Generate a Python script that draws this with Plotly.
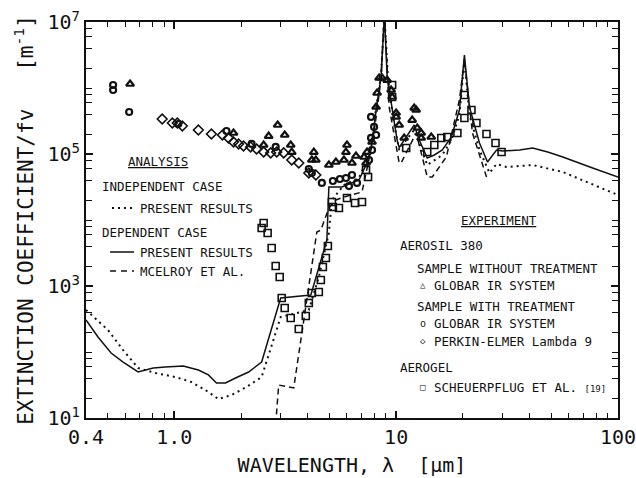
import plotly.graph_objects as go

# ---------------- data ----------------
# Dependent case, present results (solid)
dep_x = [0.4, 0.453, 0.519, 0.588, 0.687, 0.803, 0.911, 1.098, 1.284, 1.425, 1.549, 1.702,
         1.888, 2.163, 2.476, 3.017, 4.125, 4.873, 4.975, 5.697, 6.80, 7.39, 7.79, 8.12, 8.55,
         8.85, 9.11, 9.59, 10.1, 10.32, 11.1, 12.06, 12.71, 13.81, 14.86, 16.15, 17.74, 19.28,
         20.31, 21.4, 23.75, 25.81, 28.35, 30.18, 36.0, 41.25, 48.2, 56.38, 74.7, 100]
dep_y = [305, 169, 96.6, 70.5, 49.8, 57.2, 59.3, 61.4, 53.4, 44.9, 33.9, 33.9,
         40.4, 49.8, 70.5, 658, 731, 4980, 31600, 31600, 40400, 73100, 147000, 464000, 1470000,
         13000000, 1470000, 464000, 163000, 125000, 181000, 275000, 163000, 87000, 96600, 115000, 181000, 464000,
         3160000, 516000, 147000, 75600, 115000, 111000, 115000, 123000, 107000, 90100, 63500, 44900]

# Independent case, present results (dotted)
ind_x = [0.4, 0.503, 0.588, 0.687, 0.82, 1.01, 1.194, 1.38, 1.581, 1.811, 2.118, 2.476,
         3.017, 3.64, 4.04, 4.483, 4.975, 5.133, 5.817, 6.80, 7.39, 7.79, 8.12, 8.55, 8.85,
         9.2, 9.69, 10.32, 11.1, 12.06, 13.81, 16.15, 17.74, 19.28, 20.31, 21.4, 23.75,
         26.35, 28.35, 31.46, 41.25, 56.38, 74.7, 100]
ind_y = [433, 215, 107, 57.2, 48.1, 41.8, 35.1, 26.6, 19.4, 22.3, 29.5, 41.8,
         339, 390, 433, 1370, 6350, 20100, 33900, 43300, 81100, 163000, 498000, 1570000, 13000000,
         1320000, 351000, 115000, 163000, 231000, 68100, 96600, 163000, 390000, 2660000, 390000, 115000,
         51600, 70500, 63500, 68100, 53400, 36400, 23900]

# Dependent case, McElroy et al. (dashed)
mce_x = [2.864, 2.955, 3.455, 4.391, 4.577, 4.975, 5.352, 5.817, 7.017, 7.39, 7.79, 8.21,
         8.55, 8.85, 9.3, 10.32, 10.53, 11.45, 12.31, 13.81, 14.55, 16.84, 19.28, 20.31,
         22.08, 25.81]
mce_y = [8, 31.6, 28.5, 6580, 7050, 15200, 20100, 22300, 26600, 57200, 137000, 464000,
         1420000, 13000000, 516000, 73100, 73100, 128000, 208000, 44900, 44900, 90100, 658000, 2660000,
         208000, 40400]

# Aerosil 380, sample without treatment, Globar IR system (triangles)
tri_x = [0.632, 1.849, 2.528, 2.663, 2.924, 3.146, 3.348, 3.384, 4.169, 4.256, 4.345, 4.975,
         5.352, 5.817, 5.94, 6.002, 6.323, 6.592, 7.165, 7.316, 7.393, 7.788, 8.121, 8.206,
         8.377, 8.643, 9.106, 9.493, 9.592, 10.0, 10.0, 10.32, 10.87, 11.81, 12.06, 12.31,
         12.45, 12.97, 12.97, 14.40]
tri_y = [1150000, 208000, 137000, 187000, 275000, 194000, 137000, 107000, 81100, 107000, 81100, 68100,
         75600, 81100, 107000, 137000, 73100, 93300, 90100, 73100, 107000, 152000, 516000, 840000,
         1420000, 1420000, 1320000, 933000, 731000, 418000, 364000, 275000, 175000, 327000, 498000, 464000,
         248000, 208000, 175000, 181000]

# Aerosil 380, sample with treatment, Globar IR system (circles)
cir_x = [0.53, 0.53, 0.626, 1.042, 1.719, 2.231, 2.864, 4.04, 4.169, 4.625, 5.187, 5.58,
         5.94, 6.128, 6.323, 6.661, 7.548, 7.707, 7.707, 7.788, 7.953, 8.121]
cir_y = [1110000, 933000, 433000, 285000, 223000, 142000, 128000, 59300, 51600, 36400, 39000, 41800,
         43300, 32700, 48100, 36400, 81100, 364000, 175000, 115000, 257000, 194000]

# Aerosil 380, sample with treatment, Perkin-Elmer Lambda 9 (diamonds)
dia_x = [0.882, 0.98, 1.032, 1.087, 1.284, 1.47, 1.649, 1.755, 1.849, 1.949, 2.052, 2.208,
         2.35, 2.528, 2.719, 2.894, 3.113, 3.384, 3.64, 4.04, 4.345]
dia_y = [339000, 295000, 295000, 266000, 231000, 201000, 194000, 175000, 152000, 142000, 132000, 128000,
         119000, 107000, 104000, 107000, 104000, 81100, 73100, 51600, 48100]

# Aerogel, Scheuerpflug et al. [19] (squares)
sq_x = [2.476, 2.528, 2.635, 2.747, 2.864, 2.986, 3.049, 3.146, 3.348, 3.64, 3.915, 4.04,
        4.169, 4.483, 4.577, 4.674, 4.823, 4.924, 5.133, 5.187, 5.522, 6.002, 6.524, 7.017,
        7.316, 7.47, 9.592, 9.592, 11.1, 13.81, 14.86, 15.98, 17.01, 18.88, 20.31, 20.31,
        21.85, 23.01, 25.54, 28.05, 29.87]
sq_y = [7560, 9010, 6350, 3770, 2010, 1370, 658, 464, 327, 223, 351, 553,
        783, 811, 1230, 1940, 2660, 4040, 18700, 15700, 15200, 21500, 18100, 18700,
        57200, 44900, 1110000, 731000, 123000, 107000, 137000, 175000, 181000, 208000, 783000, 351000,
        464000, 295000, 201000, 147000, 107000]

x_tick_vals = [0.4, 1, 10, 100]
x_tick_text = ["0.4", "1.0", "10", "100"]
y_tick_vals = [10, 1e3, 1e5, 1e7]
y_tick_text = ["10<sup>1</sup>", "10<sup>3</sup>", "10<sup>5</sup>", "10<sup>7</sup>"]
x_minor = [0.5, 0.6, 0.7, 0.8, 0.9, 2, 3, 4, 5, 6, 7, 8, 9, 20, 30, 40, 50, 60, 70, 80, 90]
y_minor = [m * 10 ** d for d in range(1, 7) for m in (1, 2, 4, 6, 8) if not (m == 1 and d % 2 == 1)]

# ---------------- figure ----------------
INK = "#111111"
FONT = "DejaVu Sans Mono"

fig = go.Figure()

fig.add_trace(go.Scatter(x=ind_x, y=ind_y, mode="lines",
                         line=dict(color=INK, width=2, dash="2px,4px"), name="indep"))
fig.add_trace(go.Scatter(x=dep_x, y=dep_y, mode="lines",
                         line=dict(color=INK, width=1.5), name="dep"))
fig.add_trace(go.Scatter(x=mce_x, y=mce_y, mode="lines",
                         line=dict(color=INK, width=1.5, dash="6px,4px"), name="mcelroy"))

fig.add_trace(go.Scatter(x=sq_x, y=sq_y, mode="markers",
                         marker=dict(symbol="square-open", size=7, color=INK, line=dict(width=1.6))))
fig.add_trace(go.Scatter(x=dia_x, y=dia_y, mode="markers",
                         marker=dict(symbol="diamond-open", size=7.5, color=INK, line=dict(width=1.6))))
fig.add_trace(go.Scatter(x=cir_x, y=cir_y, mode="markers",
                         marker=dict(symbol="circle-open", size=6, color=INK, line=dict(width=2.2))))
fig.add_trace(go.Scatter(x=tri_x, y=tri_y, mode="markers",
                         marker=dict(symbol="triangle-up-open", size=7, color=INK, line=dict(width=2.2))))

# plot area in pixels: x 86..618, y 22..418
L, R, T, B = 86, 618, 22, 418
def px(xp):
    return (xp - L) / (R - L)
def py(yp):
    return (B - yp) / (B - T)

anns = []
def txt(text, xp, yp, size=12.5, anchor="left"):
    anns.append(dict(text=text, x=px(xp), y=py(yp), xref="paper", yref="paper",
                     xanchor=anchor, yanchor="middle", showarrow=False,
                     font=dict(family=FONT, size=size, color=INK), borderpad=0))

txt("<u>ANALYSIS</u>", 158, 162, anchor="center")
txt("INDEPENDENT CASE", 101, 187)
txt("PRESENT RESULTS", 139, 208)
txt("DEPENDENT CASE", 101, 232)
txt("PRESENT RESULTS", 139, 252)
txt("MCELROY ET AL.", 139, 271)

txt("<u>EXPERIMENT</u>", 499, 220, anchor="center")
txt("AEROSIL 380", 399, 245)
txt("SAMPLE WITHOUT TREATMENT", 416, 268)
txt("\u25b3", 423, 285, size=9, anchor="center")
txt("GLOBAR IR SYSTEM", 433, 285)
txt("SAMPLE WITH TREATMENT", 416, 306)
txt("o", 423, 323, size=10, anchor="center")
txt("GLOBAR IR SYSTEM", 433, 323)
txt("\u25c7", 423, 341, size=9, anchor="center")
txt("PERKIN-ELMER Lambda 9", 433, 341)
txt("AEROGEL", 399, 367)
txt("\u25a1", 423, 387, size=9, anchor="center")
txt("SCHEUERPFLUG ET AL. <span style='font-size:9px'>[19]</span>", 433, 387)

shapes = []
def seg(x0, x1, yp, dash, width):
    shapes.append(dict(type="line", xref="paper", yref="paper", x0=px(x0), x1=px(x1),
                       y0=py(yp), y1=py(yp), line=dict(color=INK, width=width, dash=dash)))
seg(112, 134, 208, "2px,4px", 2)
seg(110, 134, 252, "solid", 1.5)
seg(110, 134, 271, "6px,5px", 1.5)

fig.update_layout(
    template="none",
    width=636, height=478,
    margin=dict(l=L, r=636 - R, t=T, b=478 - B),
    paper_bgcolor="white", plot_bgcolor="white",
    showlegend=False,
    annotations=anns, shapes=shapes,
    font=dict(family=FONT, color=INK),
)
fig.update_xaxes(type="log", range=[-0.39794, 2], showgrid=False, zeroline=False,
                 showline=True, linecolor=INK, linewidth=2, mirror="ticks",
                 ticks="inside", ticklen=7, tickwidth=1.5, tickcolor=INK,
                 tickvals=x_tick_vals, ticktext=x_tick_text, ticklabeloverflow="allow",
                 tickfont=dict(family=FONT, size=20, color=INK),
                 title=dict(text="WAVELENGTH, \u03bb  [\u00b5m]", standoff=10,
                            font=dict(family=FONT, size=20, color=INK)),
                 minor=dict(tickvals=x_minor, ticks="inside", ticklen=5, tickwidth=1.3,
                            tickcolor=INK, showgrid=False),
                 automargin=False)
fig.update_yaxes(type="log", range=[1, 7], showgrid=False, zeroline=False,
                 showline=True, linecolor=INK, linewidth=2, mirror="ticks",
                 ticks="inside", ticklen=7, tickwidth=1.5, tickcolor=INK,
                 tickvals=y_tick_vals, ticktext=y_tick_text, ticklabeloverflow="allow",
                 tickfont=dict(family=FONT, size=20, color=INK),
                 title=dict(text="EXTINCTION COEFFICIENT/fv   [m<sup>-1</sup>]", standoff=8,
                            font=dict(family=FONT, size=21, color=INK)),
                 minor=dict(tickvals=y_minor, ticks="inside", ticklen=6, tickwidth=1.3,
                            tickcolor=INK, showgrid=False),
                 automargin=False)

fig.write_html("out.html")
